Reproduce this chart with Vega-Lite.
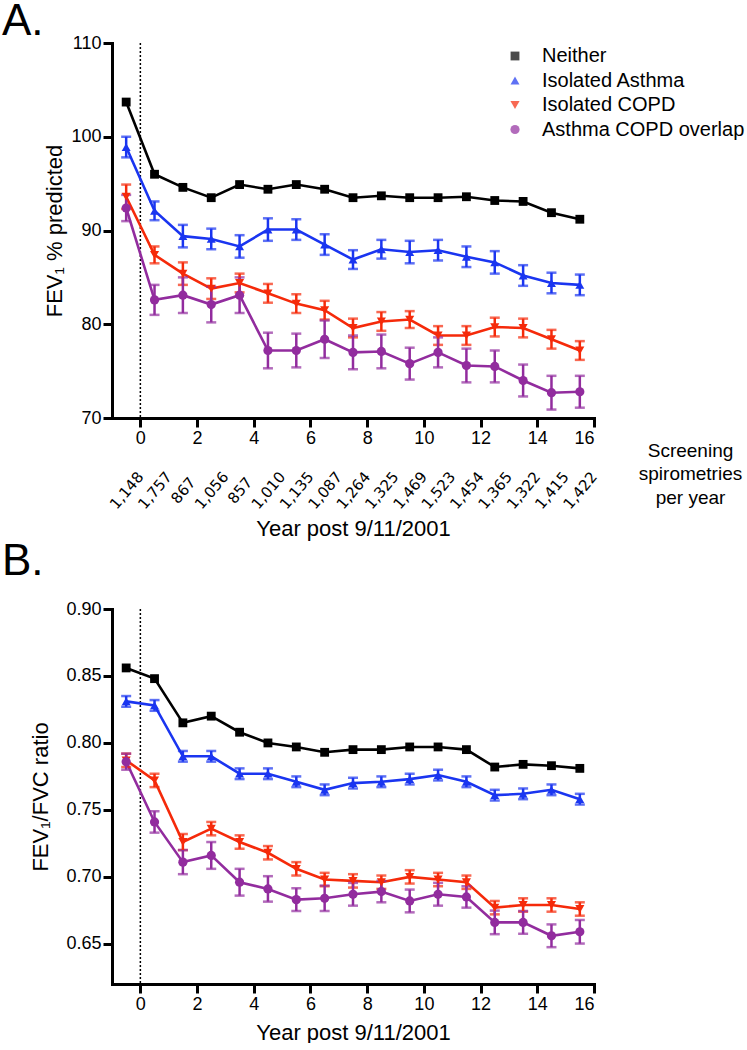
{
  "$schema": "https://vega.github.io/schema/vega-lite/v6.json",
  "padding": {"left": 2, "top": 0, "right": 0, "bottom": 0},
  "spacing": 1,
  "config": {
    "view": {"stroke": null},
    "font": "Liberation Sans",
    "axis": {"domainColor": "black", "domainWidth": 3, "domainCap": "square", "tickColor": "black", "tickWidth": 3, "tickSize": 9, "labelColor": "black", "labelFont": "Liberation Sans", "labelFontSize": 18, "labelPadding": 2, "titleFont": "Liberation Sans", "titleFontSize": 22, "titleFontWeight": "normal", "titleColor": "black", "grid": false}
  },
  "datasets": {
    "a": [
      {"year": -0.5, "group": "Neither", "value": 103.7}, {"year": 0.5, "group": "Neither", "value": 96.0}, {"year": 1.5, "group": "Neither", "value": 94.6}, {"year": 2.5, "group": "Neither", "value": 93.5}, {"year": 3.5, "group": "Neither", "value": 94.9}, {"year": 4.5, "group": "Neither", "value": 94.4}, {"year": 5.5, "group": "Neither", "value": 94.9}, {"year": 6.5, "group": "Neither", "value": 94.4}, {"year": 7.5, "group": "Neither", "value": 93.5}, {"year": 8.5, "group": "Neither", "value": 93.7}, {"year": 9.5, "group": "Neither", "value": 93.5}, {"year": 10.5, "group": "Neither", "value": 93.5}, {"year": 11.5, "group": "Neither", "value": 93.6}, {"year": 12.5, "group": "Neither", "value": 93.2}, {"year": 13.5, "group": "Neither", "value": 93.1}, {"year": 14.5, "group": "Neither", "value": 91.9}, {"year": 15.5, "group": "Neither", "value": 91.2},
      {"year": -0.5, "group": "Isolated Asthma", "value": 98.9, "err": 1.1}, {"year": 0.5, "group": "Isolated Asthma", "value": 92.1, "err": 1.0}, {"year": 1.5, "group": "Isolated Asthma", "value": 89.4, "err": 1.2}, {"year": 2.5, "group": "Isolated Asthma", "value": 89.1, "err": 1.1}, {"year": 3.5, "group": "Isolated Asthma", "value": 88.3, "err": 1.2}, {"year": 4.5, "group": "Isolated Asthma", "value": 90.1, "err": 1.2}, {"year": 5.5, "group": "Isolated Asthma", "value": 90.1, "err": 1.1}, {"year": 6.5, "group": "Isolated Asthma", "value": 88.5, "err": 1.1}, {"year": 7.5, "group": "Isolated Asthma", "value": 86.9, "err": 1.0}, {"year": 8.5, "group": "Isolated Asthma", "value": 88.0, "err": 1.0}, {"year": 9.5, "group": "Isolated Asthma", "value": 87.7, "err": 1.2}, {"year": 10.5, "group": "Isolated Asthma", "value": 87.9, "err": 1.1}, {"year": 11.5, "group": "Isolated Asthma", "value": 87.2, "err": 1.1}, {"year": 12.5, "group": "Isolated Asthma", "value": 86.6, "err": 1.2}, {"year": 13.5, "group": "Isolated Asthma", "value": 85.2, "err": 1.1}, {"year": 14.5, "group": "Isolated Asthma", "value": 84.4, "err": 1.1}, {"year": 15.5, "group": "Isolated Asthma", "value": 84.2, "err": 1.1},
      {"year": -0.5, "group": "Isolated COPD", "value": 93.6, "err": 1.3}, {"year": 0.5, "group": "Isolated COPD", "value": 87.4, "err": 0.9}, {"year": 1.5, "group": "Isolated COPD", "value": 85.4, "err": 1.2}, {"year": 2.5, "group": "Isolated COPD", "value": 83.8, "err": 1.1}, {"year": 3.5, "group": "Isolated COPD", "value": 84.4, "err": 1.0}, {"year": 4.5, "group": "Isolated COPD", "value": 83.3, "err": 1.0}, {"year": 5.5, "group": "Isolated COPD", "value": 82.2, "err": 1.0}, {"year": 6.5, "group": "Isolated COPD", "value": 81.5, "err": 1.0}, {"year": 7.5, "group": "Isolated COPD", "value": 79.6, "err": 1.0}, {"year": 8.5, "group": "Isolated COPD", "value": 80.3, "err": 1.0}, {"year": 9.5, "group": "Isolated COPD", "value": 80.5, "err": 0.9}, {"year": 10.5, "group": "Isolated COPD", "value": 78.8, "err": 1.0}, {"year": 11.5, "group": "Isolated COPD", "value": 78.8, "err": 1.0}, {"year": 12.5, "group": "Isolated COPD", "value": 79.7, "err": 1.0}, {"year": 13.5, "group": "Isolated COPD", "value": 79.6, "err": 1.0}, {"year": 14.5, "group": "Isolated COPD", "value": 78.4, "err": 1.0}, {"year": 15.5, "group": "Isolated COPD", "value": 77.2, "err": 1.0},
      {"year": -0.5, "group": "Asthma COPD overlap", "value": 92.4, "err": 1.4}, {"year": 0.5, "group": "Asthma COPD overlap", "value": 82.6, "err": 1.6}, {"year": 1.5, "group": "Asthma COPD overlap", "value": 83.1, "err": 1.9}, {"year": 2.5, "group": "Asthma COPD overlap", "value": 82.1, "err": 1.9}, {"year": 3.5, "group": "Asthma COPD overlap", "value": 83.1, "err": 1.9}, {"year": 4.5, "group": "Asthma COPD overlap", "value": 77.2, "err": 1.9}, {"year": 5.5, "group": "Asthma COPD overlap", "value": 77.2, "err": 1.8}, {"year": 6.5, "group": "Asthma COPD overlap", "value": 78.4, "err": 2.0}, {"year": 7.5, "group": "Asthma COPD overlap", "value": 77.0, "err": 1.8}, {"year": 8.5, "group": "Asthma COPD overlap", "value": 77.1, "err": 1.8}, {"year": 9.5, "group": "Asthma COPD overlap", "value": 75.8, "err": 1.7}, {"year": 10.5, "group": "Asthma COPD overlap", "value": 77.0, "err": 1.6}, {"year": 11.5, "group": "Asthma COPD overlap", "value": 75.6, "err": 1.8}, {"year": 12.5, "group": "Asthma COPD overlap", "value": 75.5, "err": 1.7}, {"year": 13.5, "group": "Asthma COPD overlap", "value": 74.0, "err": 1.7}, {"year": 14.5, "group": "Asthma COPD overlap", "value": 72.7, "err": 1.8}, {"year": 15.5, "group": "Asthma COPD overlap", "value": 72.8, "err": 1.7}
    ],
    "b": [
      {"year": -0.5, "group": "Neither", "value": 0.856}, {"year": 0.5, "group": "Neither", "value": 0.848}, {"year": 1.5, "group": "Neither", "value": 0.815}, {"year": 2.5, "group": "Neither", "value": 0.820}, {"year": 3.5, "group": "Neither", "value": 0.808}, {"year": 4.5, "group": "Neither", "value": 0.800}, {"year": 5.5, "group": "Neither", "value": 0.797}, {"year": 6.5, "group": "Neither", "value": 0.793}, {"year": 7.5, "group": "Neither", "value": 0.795}, {"year": 8.5, "group": "Neither", "value": 0.795}, {"year": 9.5, "group": "Neither", "value": 0.797}, {"year": 10.5, "group": "Neither", "value": 0.797}, {"year": 11.5, "group": "Neither", "value": 0.795}, {"year": 12.5, "group": "Neither", "value": 0.782}, {"year": 13.5, "group": "Neither", "value": 0.784}, {"year": 14.5, "group": "Neither", "value": 0.783}, {"year": 15.5, "group": "Neither", "value": 0.781},
      {"year": -0.5, "group": "Isolated Asthma", "value": 0.831, "err": 0.004}, {"year": 0.5, "group": "Isolated Asthma", "value": 0.828, "err": 0.004}, {"year": 1.5, "group": "Isolated Asthma", "value": 0.790, "err": 0.004}, {"year": 2.5, "group": "Isolated Asthma", "value": 0.790, "err": 0.004}, {"year": 3.5, "group": "Isolated Asthma", "value": 0.777, "err": 0.004}, {"year": 4.5, "group": "Isolated Asthma", "value": 0.777, "err": 0.004}, {"year": 5.5, "group": "Isolated Asthma", "value": 0.771, "err": 0.004}, {"year": 6.5, "group": "Isolated Asthma", "value": 0.765, "err": 0.004}, {"year": 7.5, "group": "Isolated Asthma", "value": 0.770, "err": 0.004}, {"year": 8.5, "group": "Isolated Asthma", "value": 0.771, "err": 0.004}, {"year": 9.5, "group": "Isolated Asthma", "value": 0.773, "err": 0.004}, {"year": 10.5, "group": "Isolated Asthma", "value": 0.776, "err": 0.004}, {"year": 11.5, "group": "Isolated Asthma", "value": 0.771, "err": 0.004}, {"year": 12.5, "group": "Isolated Asthma", "value": 0.761, "err": 0.004}, {"year": 13.5, "group": "Isolated Asthma", "value": 0.762, "err": 0.004}, {"year": 14.5, "group": "Isolated Asthma", "value": 0.765, "err": 0.004}, {"year": 15.5, "group": "Isolated Asthma", "value": 0.758, "err": 0.004},
      {"year": -0.5, "group": "Isolated COPD", "value": 0.787, "err": 0.005}, {"year": 0.5, "group": "Isolated COPD", "value": 0.772, "err": 0.005}, {"year": 1.5, "group": "Isolated COPD", "value": 0.726, "err": 0.006}, {"year": 2.5, "group": "Isolated COPD", "value": 0.736, "err": 0.005}, {"year": 3.5, "group": "Isolated COPD", "value": 0.726, "err": 0.005}, {"year": 4.5, "group": "Isolated COPD", "value": 0.718, "err": 0.005}, {"year": 5.5, "group": "Isolated COPD", "value": 0.706, "err": 0.005}, {"year": 6.5, "group": "Isolated COPD", "value": 0.698, "err": 0.005}, {"year": 7.5, "group": "Isolated COPD", "value": 0.697, "err": 0.005}, {"year": 8.5, "group": "Isolated COPD", "value": 0.696, "err": 0.005}, {"year": 9.5, "group": "Isolated COPD", "value": 0.700, "err": 0.005}, {"year": 10.5, "group": "Isolated COPD", "value": 0.698, "err": 0.005}, {"year": 11.5, "group": "Isolated COPD", "value": 0.696, "err": 0.005}, {"year": 12.5, "group": "Isolated COPD", "value": 0.677, "err": 0.005}, {"year": 13.5, "group": "Isolated COPD", "value": 0.679, "err": 0.005}, {"year": 14.5, "group": "Isolated COPD", "value": 0.679, "err": 0.005}, {"year": 15.5, "group": "Isolated COPD", "value": 0.676, "err": 0.005},
      {"year": -0.5, "group": "Asthma COPD overlap", "value": 0.786, "err": 0.006}, {"year": 0.5, "group": "Asthma COPD overlap", "value": 0.741, "err": 0.008}, {"year": 1.5, "group": "Asthma COPD overlap", "value": 0.711, "err": 0.009}, {"year": 2.5, "group": "Asthma COPD overlap", "value": 0.716, "err": 0.010}, {"year": 3.5, "group": "Asthma COPD overlap", "value": 0.696, "err": 0.010}, {"year": 4.5, "group": "Asthma COPD overlap", "value": 0.691, "err": 0.0095}, {"year": 5.5, "group": "Asthma COPD overlap", "value": 0.683, "err": 0.0085}, {"year": 6.5, "group": "Asthma COPD overlap", "value": 0.684, "err": 0.0095}, {"year": 7.5, "group": "Asthma COPD overlap", "value": 0.687, "err": 0.0085}, {"year": 8.5, "group": "Asthma COPD overlap", "value": 0.689, "err": 0.008}, {"year": 9.5, "group": "Asthma COPD overlap", "value": 0.682, "err": 0.0085}, {"year": 10.5, "group": "Asthma COPD overlap", "value": 0.687, "err": 0.0085}, {"year": 11.5, "group": "Asthma COPD overlap", "value": 0.685, "err": 0.008}, {"year": 12.5, "group": "Asthma COPD overlap", "value": 0.666, "err": 0.0088}, {"year": 13.5, "group": "Asthma COPD overlap", "value": 0.666, "err": 0.0085}, {"year": 14.5, "group": "Asthma COPD overlap", "value": 0.656, "err": 0.0085}, {"year": 15.5, "group": "Asthma COPD overlap", "value": 0.659, "err": 0.0088}
    ],
    "counts": [
      {"year": -0.5, "n": "1,148"}, {"year": 0.5, "n": "1,757"}, {"year": 1.5, "n": "867"}, {"year": 2.5, "n": "1,056"}, {"year": 3.5, "n": "857"}, {"year": 4.5, "n": "1,010"}, {"year": 5.5, "n": "1,135"}, {"year": 6.5, "n": "1,087"}, {"year": 7.5, "n": "1,264"}, {"year": 8.5, "n": "1,325"}, {"year": 9.5, "n": "1,469"}, {"year": 10.5, "n": "1,523"}, {"year": 11.5, "n": "1,454"}, {"year": 12.5, "n": "1,365"}, {"year": 13.5, "n": "1,322"}, {"year": 14.5, "n": "1,415"}, {"year": 15.5, "n": "1,422"}
    ]
  },
  "resolve": {"scale": {"color": "independent", "shape": "independent", "size": "independent"}, "legend": {"color": "independent", "shape": "independent", "size": "independent"}},
  "vconcat": [
    {
      "width": 482,
      "height": 375,
      "title": {"text": "A.", "anchor": "start", "frame": "group", "fontSize": 44, "fontWeight": "normal", "font": "Liberation Sans", "color": "black", "dx": -110, "offset": -45, "baseline": "alphabetic"},
      "layer": [
        {
          "layer": [
            {
              "data": {"values": [{"x": 0}]},
              "mark": {"type": "rule", "strokeDash": [2, 2], "strokeWidth": 1.5, "color": "black"},
              "encoding": {"x": {"field": "x", "type": "quantitative"}}
            },
            {
              "data": {"name": "a"},
              "mark": {"type": "line", "strokeWidth": 2.6},
              "encoding": {
                "x": {"field": "year", "type": "quantitative", "scale": {"domain": [-1, 16], "nice": false, "zero": false}, "axis": {"values": [0, 2, 4, 6, 8, 10, 12, 14, 16], "format": "d", "title": "Year post 9/11/2001", "titlePadding": 71}},
                "y": {"field": "value", "type": "quantitative", "title": "FEV₁ % predicted", "scale": {"domain": [70, 110], "nice": false, "zero": false}, "axis": {"values": [70, 80, 90, 100, 110], "titlePadding": 4}},
                "color": {"field": "group", "type": "nominal", "scale": {"domain": ["Neither", "Isolated Asthma", "Isolated COPD", "Asthma COPD overlap"], "range": ["#000000", "#1a35f0", "#f52a0a", "#922c9e"]}, "legend": {"orient": "none", "legendX": 393, "legendY": 3, "title": null, "labelFont": "Liberation Sans", "labelFontSize": 20, "labelColor": "black", "labelLimit": 400, "symbolStrokeWidth": 0, "rowPadding": 4.5, "labelOffset": 17, "padding": 0}}
              }
            },
            {
              "data": {"name": "a"},
              "transform": [{"filter": "datum.err != null"}],
              "mark": {"type": "errorbar", "ticks": {"size": 10, "thickness": 2.5}, "rule": {"strokeWidth": 2.5}},
              "encoding": {
                "x": {"field": "year", "type": "quantitative", "title": "Year post 9/11/2001"},
                "y": {"field": "value", "type": "quantitative", "title": "FEV₁ % predicted"},
                "yError": {"field": "err"},
                "color": {"field": "group", "type": "nominal"}
              }
            },
            {
              "data": {"name": "a"},
              "mark": {"type": "point", "filled": true, "opacity": 1},
              "encoding": {
                "x": {"field": "year", "type": "quantitative", "title": "Year post 9/11/2001"},
                "y": {"field": "value", "type": "quantitative", "title": "FEV₁ % predicted"},
                "color": {"field": "group", "type": "nominal"},
                "shape": {"field": "group", "type": "nominal", "scale": {"domain": ["Neither", "Isolated Asthma", "Isolated COPD", "Asthma COPD overlap"], "range": ["square", "triangle-up", "triangle-down", "circle"]}, "legend": null},
                "size": {"field": "group", "type": "nominal", "scale": {"domain": ["Neither", "Isolated Asthma", "Isolated COPD", "Asthma COPD overlap"], "range": [78, 85, 85, 64]}, "legend": null}
              }
            }
          ]
        },
        {
          "data": {"name": "counts"},
          "mark": {"type": "point", "opacity": 0},
          "encoding": {
            "x": {"field": "n", "type": "nominal", "sort": {"field": "year", "op": "min"}, "axis": {"orient": "bottom", "domain": false, "ticks": false, "tickSize": 0, "labelAngle": -50, "labelAlign": "center", "labelBaseline": "middle", "labelPadding": 72, "labelDx": 6, "labelFont": "DejaVu Sans", "labelFontSize": 15, "labelOverlap": false, "title": ["Screening", "spirometries", "per year"], "titleX": 578, "titleY": 23, "titleAngle": 0, "titleAlign": "center", "titleBaseline": "top", "titleFontSize": 19, "titleLineHeight": 23.5}}
          }
        }
      ],
      "resolve": {"scale": {"x": "independent"}}
    },
    {
      "width": 482,
      "height": 375,
      "title": {"text": "B.", "anchor": "start", "frame": "group", "fontSize": 44, "fontWeight": "normal", "font": "Liberation Sans", "color": "black", "dx": -110, "offset": -19, "baseline": "alphabetic"},
      "layer": [
        {
          "data": {"values": [{"x": 0}]},
          "mark": {"type": "rule", "strokeDash": [2, 2], "strokeWidth": 1.5, "color": "black"},
          "encoding": {"x": {"field": "x", "type": "quantitative"}}
        },
        {
          "data": {"name": "b"},
          "mark": {"type": "line", "strokeWidth": 2.6},
          "encoding": {
            "x": {"field": "year", "type": "quantitative", "scale": {"domain": [-1, 16], "nice": false, "zero": false}, "axis": {"values": [0, 2, 4, 6, 8, 10, 12, 14, 16], "format": "d", "title": "Year post 9/11/2001", "titlePadding": 9}},
            "y": {"field": "value", "type": "quantitative", "title": "FEV₁/FVC ratio", "scale": {"domain": [0.62, 0.9], "nice": false, "zero": false}, "axis": {"values": [0.65, 0.7, 0.75, 0.8, 0.85, 0.9], "format": ".2f", "titlePadding": 13}},
            "color": {"field": "group", "type": "nominal", "scale": {"domain": ["Neither", "Isolated Asthma", "Isolated COPD", "Asthma COPD overlap"], "range": ["#000000", "#1a35f0", "#f52a0a", "#922c9e"]}, "legend": null}
          }
        },
        {
          "data": {"name": "b"},
          "transform": [{"filter": "datum.err != null"}],
          "mark": {"type": "errorbar", "ticks": {"size": 10, "thickness": 2.5}, "rule": {"strokeWidth": 2.5}},
          "encoding": {
            "x": {"field": "year", "type": "quantitative", "title": "Year post 9/11/2001"},
            "y": {"field": "value", "type": "quantitative", "title": "FEV₁/FVC ratio"},
            "yError": {"field": "err"},
            "color": {"field": "group", "type": "nominal", "legend": null}
          }
        },
        {
          "data": {"name": "b"},
          "mark": {"type": "point", "filled": true, "opacity": 1},
          "encoding": {
            "x": {"field": "year", "type": "quantitative", "title": "Year post 9/11/2001"},
            "y": {"field": "value", "type": "quantitative", "title": "FEV₁/FVC ratio"},
            "color": {"field": "group", "type": "nominal", "legend": null},
            "shape": {"field": "group", "type": "nominal", "scale": {"domain": ["Neither", "Isolated Asthma", "Isolated COPD", "Asthma COPD overlap"], "range": ["square", "triangle-up", "triangle-down", "circle"]}, "legend": null},
            "size": {"field": "group", "type": "nominal", "scale": {"domain": ["Neither", "Isolated Asthma", "Isolated COPD", "Asthma COPD overlap"], "range": [78, 85, 85, 64]}, "legend": null}
          }
        }
      ]
    }
  ]
}
